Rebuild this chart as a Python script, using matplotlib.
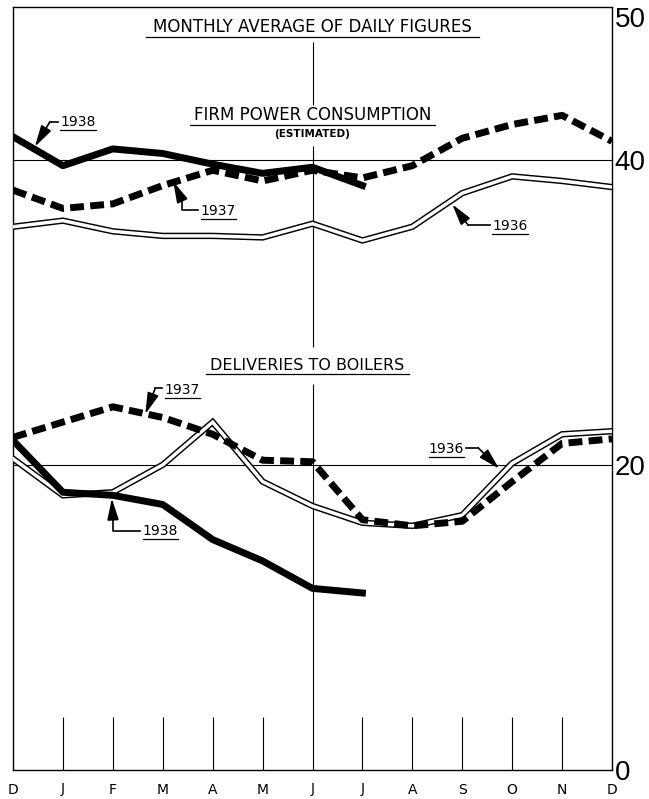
import matplotlib
matplotlib.use('Agg')
import matplotlib.pyplot as plt
from matplotlib.lines import Line2D

# months D..D (13 points)
meses = ['D', 'J', 'F', 'M', 'A', 'M', 'J', 'J', 'A', 'S', 'O', 'N', 'D']

# firm power consumption (estimated)
firm_1936 = [35.6, 36.0, 35.3, 35.0, 35.0, 34.9, 35.8, 34.7, 35.6, 37.8, 38.9, 38.6, 38.2]
firm_1937 = [38.0, 36.8, 37.1, 38.3, 39.3, 38.6, 39.3, 38.8, 39.6, 41.4, 42.3, 42.9, 41.2]
firm_1938 = [41.5, 39.6, 40.7, 40.4, 39.7, 39.1, 39.5, 38.3]

# deliveries to boilers
boil_1936 = [20.4, 18.0, 18.2, 20.0, 22.8, 18.9, 17.3, 16.2, 16.0, 16.7, 20.1, 22.0, 22.2]
boil_1937 = [21.8, 22.8, 23.8, 23.1, 22.0, 20.3, 20.2, 16.4, 16.0, 16.3, 18.9, 21.4, 21.7]
boil_1938 = [21.6, 18.2, 18.0, 17.4, 15.1, 13.7, 11.9, 11.6]

y_ticks = [0, 20, 40, 50]

fig = plt.figure(figsize=(6.49, 7.99), dpi=100)
ax = fig.add_axes([13 / 649, 29 / 799, 599 / 649, 763 / 799])
ax.set_xlim(0, 12)
ax.set_ylim(0, 49.7)

for s in ax.spines.values():
    s.set_linewidth(1.0)

ax.set_xticks(range(13))
ax.set_xticklabels(meses, fontsize=10)
ax.tick_params(axis='x', length=0, pad=9)
ax.yaxis.tick_right()
ax.set_yticks(y_ticks)
ax.set_yticklabels([str(v) for v in y_ticks], fontsize=20, family='Liberation Sans')
ax.tick_params(axis='y', length=0, pad=2)
lbls = ax.get_yticklabels()
lbls[-1].set_va('top')

# grid and guide lines
ax.axhline(20, color='k', lw=0.8)
ax.axhline(40, color='k', lw=0.8)
ax.vlines(6, 0, 25.3, color='k', lw=0.8)
ax.vlines(6, 27.7, 40.9, color='k', lw=0.8)
ax.vlines(6, 43.6, 47.7, color='k', lw=0.8)
ax.vlines([m for m in range(1, 12) if m != 6], 0, 3.45, color='k', lw=0.8)

x_full = list(range(13))
x_38 = list(range(len(firm_1938)))


def doble(x, y):
    ax.plot(x, y, color='k', lw=4.6, solid_joinstyle='miter', zorder=3)
    ax.plot(x, y, color='white', lw=2.5, solid_joinstyle='miter', zorder=3.1)


doble(x_full, firm_1936)
doble(x_full, boil_1936)
ax.plot(x_full, firm_1937, color='k', lw=5, dashes=(2, 0.9), zorder=4)
ax.plot(x_full, boil_1937, color='k', lw=5, dashes=(2, 0.9), zorder=4)
ax.plot(x_38, firm_1938, color='k', lw=5, zorder=5)
ax.plot(list(range(len(boil_1938))), boil_1938, color='k', lw=5, zorder=5)

subrayar = []


def texto(x, y, s, size, ext=0.0, weight='normal'):
    t = ax.text(x, y, s, fontsize=size, ha='center', va='center', weight=weight, zorder=6)
    subrayar.append((t, ext))
    return t


texto(6, 48.7, 'MONTHLY AVERAGE OF DAILY FIGURES', 12, ext=7)
texto(6, 42.9, 'FIRM POWER CONSUMPTION', 12, ext=4)
ax.text(6, 41.7, '(ESTIMATED)', fontsize=7.5, weight='bold', ha='center', va='center')
texto(5.9, 26.5, 'DELIVERIES TO BOILERS', 11.5, ext=4)


def llamada(s, txy, lider, tip):
    texto(txy[0], txy[1], s, 10)
    xs = [p[0] for p in lider]
    ys = [p[1] for p in lider]
    ax.plot(xs, ys, color='k', lw=1.2, zorder=6)
    ax.annotate('', xy=tip, xytext=lider[-1],
                arrowprops=dict(arrowstyle='-|>,head_length=1.3,head_width=0.35',
                                mutation_scale=10, color='k', lw=1.2,
                                shrinkA=0, shrinkB=0), zorder=6)


llamada('1938', (1.30, 42.48), [(0.90, 42.48), (0.74, 42.48)], (0.44, 40.85))
llamada('1937', (4.11, 36.61), [(3.71, 36.68), (3.39, 36.68), (3.39, 37.3)], (3.21, 38.57))
llamada('1936', (9.96, 35.64), [(9.56, 35.70), (9.12, 35.70)], (8.80, 37.07))
llamada('1937', (3.39, 24.89), [(2.99, 25.02), (2.85, 25.02)], (2.65, 23.32))
llamada('1938', (2.95, 15.64), [(2.55, 15.64), (2.00, 15.64), (2.00, 16.6)], (1.98, 17.79))
llamada('1936', (8.68, 21.04), [(9.08, 21.11), (9.32, 21.11)], (9.74, 19.74))

# underlines under the lettering
fig.canvas.draw()
inv = fig.transFigure.inverted()
for t, ext in subrayar:
    bb = t.get_window_extent()
    y = bb.y0 - 1
    p0 = inv.transform((bb.x0 - ext, y))
    p1 = inv.transform((bb.x1 + ext, y))
    fig.add_artist(Line2D([p0[0], p1[0]], [p0[1], p1[1]], color='k', lw=0.9))

fig.savefig('out.png', dpi=100)
